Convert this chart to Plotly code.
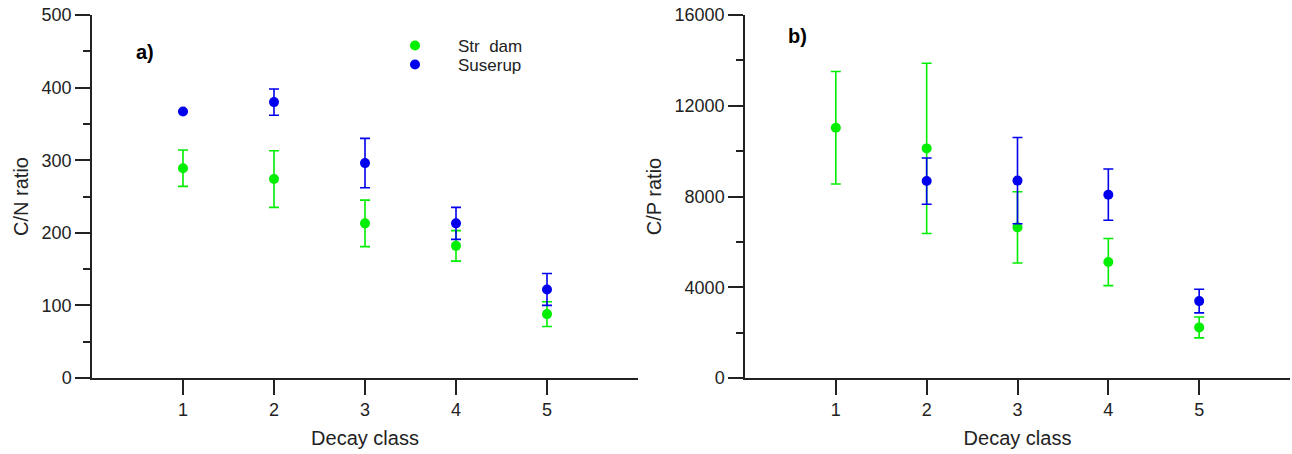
import plotly.graph_objects as go
from plotly.subplots import make_subplots

decay_class = [1, 2, 3, 4, 5]

# C/N ratio (panel a)
cn_strodam = [289, 274, 213, 182, 88]
cn_strodam_err = [25, 39, 32, 21, 17]
cn_suserup = [367, 380, 296, 213, 122]
cn_suserup_err = [0, 18, 34, 22, 22]

# C/P ratio (panel b)
cp_strodam = [11030, 10120, 6640, 5110, 2230]
cp_strodam_err = [2480, 3750, 1570, 1040, 460]
cp_suserup = [None, 8680, 8700, 8080, 3390]
cp_suserup_err = [0, 1020, 1900, 1130, 520]

GREEN = "#00ee00"
BLUE = "#0000ee"
FONT = "Arial, Liberation Sans, sans-serif"

W, H = 1292, 454
PLOT_TOP, PLOT_BOTTOM = 15, 378
PLOT_H = PLOT_BOTTOM - PLOT_TOP

fig = make_subplots(rows=1, cols=2)


def add_series(y, err, name, color, col, legend):
    fig.add_trace(go.Scatter(
        x=decay_class, y=y, name=name, mode="markers",
        marker=dict(color=color, size=10),
        error_y=dict(type="data", array=err, color=color, thickness=1.6, width=5),
        showlegend=legend is not None, legend=legend or "legend",
    ), row=1, col=col)


add_series(cn_strodam, cn_strodam_err, "Str\u00a0\u00a0dam", GREEN, 1, "legend")
add_series(cn_suserup, cn_suserup_err, "Suserup", BLUE, 1, "legend2")
add_series(cp_strodam, cp_strodam_err, "Str\u00a0\u00a0dam", GREEN, 2, None)
add_series(cp_suserup, cp_suserup_err, "Suserup", BLUE, 2, None)

axis_style = dict(
    showline=True, linecolor="#222", linewidth=1.5, ticks="outside",
    tickcolor="#222", tickwidth=1.5, ticklen=15, showgrid=False, zeroline=False,
    tickfont=dict(size=18, color="#222"), ticklabeloverflow="allow", automargin=False,
)
title_font = dict(size=20, color="#222")

fig.update_xaxes(axis_style, range=[0, 6], tickvals=decay_class,
                 title=dict(text="Decay class", font=title_font, standoff=12))
fig.update_xaxes(domain=[92 / W, 638 / W], row=1, col=1)
fig.update_xaxes(domain=[745 / W, 1290 / W], row=1, col=2)

fig.update_yaxes(axis_style, row=1, col=1, range=[0, 500], dtick=100,
                 minor=dict(ticks="outside", dtick=50, ticklen=7, tickwidth=1.5, tickcolor="#222"),
                 title=dict(text="C/N ratio", font=title_font, standoff=8))
fig.update_yaxes(axis_style, row=1, col=2, range=[0, 16000], dtick=4000, tickformat="d",
                 minor=dict(ticks="outside", dtick=2000, ticklen=7, tickwidth=1.5, tickcolor="#222"),
                 title=dict(text="C/P ratio", font=title_font, standoff=8))


def paper_x(px):
    return px / W


def paper_y(py):
    return 1 - (py - PLOT_TOP) / PLOT_H


for label, px, py in [("a)", 145, 52), ("b)", 797, 36)]:
    fig.add_annotation(text=f"<b>{label}</b>", x=paper_x(px), y=paper_y(py),
                       xref="paper", yref="paper", xanchor="center", yanchor="middle",
                       showarrow=False, font=dict(size=20, color="black"))

legend_style = dict(xanchor="left", yanchor="middle", font=dict(size=17, color="#222"),
                    bgcolor="rgba(0,0,0,0)", itemwidth=76, borderwidth=0)

fig.update_layout(
    width=W, height=H,
    margin=dict(l=0, r=0, t=PLOT_TOP, b=H - PLOT_BOTTOM),
    paper_bgcolor="white", plot_bgcolor="white",
    font=dict(family=FONT, color="#222"),
    legend=dict(legend_style, x=paper_x(372), y=paper_y(46)),
    legend2=dict(legend_style, x=paper_x(372), y=paper_y(65)),
)

# drop the default 8px page margin so the figure sits at the window's corner
fig.write_html("out.html", config={"displayModeBar": False},
               post_script="document.body.style.margin = '0';")
